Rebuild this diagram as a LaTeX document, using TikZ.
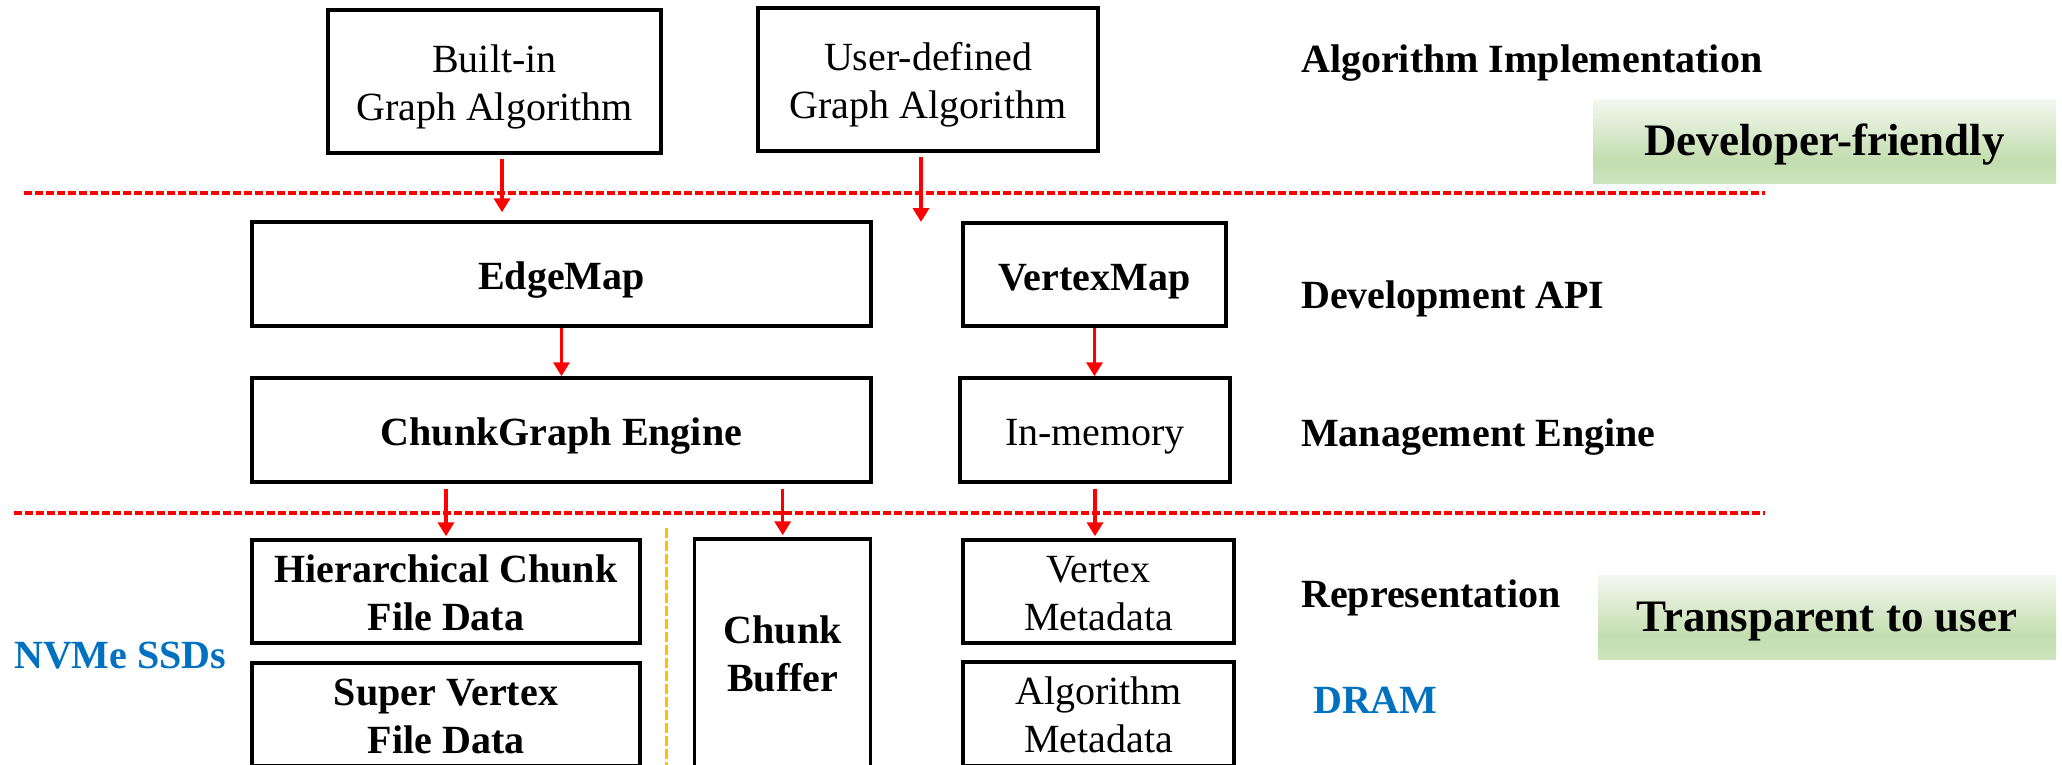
\documentclass[tikz,border=0pt]{standalone}
\usepackage{fontspec}
\setmainfont{Liberation Serif}
\usetikzlibrary{arrows.meta}

\definecolor{arrred}{HTML}{FF0000}
\definecolor{memblue}{HTML}{0070C0}
\definecolor{divgold}{HTML}{FFC000}
\definecolor{gtop}{HTML}{F4F8F0}
\definecolor{gmid}{HTML}{C2DDAE}
\definecolor{gbot}{HTML}{CDE4BE}
\pgfdeclareverticalshading{greenfade}{100bp}{color(0bp)=(gbot); color(25bp)=(gbot); color(38bp)=(gmid); color(75bp)=(gtop); color(100bp)=(gtop)}

% two centred lines; the box baseline is the second line's baseline
\newcommand\twolines[2]{\vbox{\halign{\hfil##\hfil\cr #1\cr #2\cr}}}

\begin{document}
\begin{tikzpicture}[x=1pt,y=-1pt,
  box/.style={draw=black, line width=3.5pt, inner sep=0pt,
    font=\fontsize{40}{48}\selectfont, text height=33pt, text depth=2pt},
  box2/.style={box, text height=79pt, text depth=2pt},
  boldtext/.style={font=\fontsize{40}{48}\selectfont\bfseries},
  layerlbl/.style={anchor=base west, inner sep=0pt, font=\fontsize{40}{48}\selectfont\bfseries},
  memlbl/.style={layerlbl, text=memblue},
  tag/.style={shade, shading=greenfade, inner sep=0pt, minimum height=84pt,
    font=\fontsize{45}{52}\selectfont\bfseries, text height=31pt, text depth=2pt},
  flow/.style={draw=arrred, line width=3.5pt, -{Triangle[length=14pt,width=16pt]}},
  tier/.style={draw=arrred, line width=3.5pt, dash pattern=on 7.5pt off 3.5pt},
  split/.style={draw=divgold, line width=2.8pt, dash pattern=on 10pt off 3pt}]

\useasboundingbox (0,0) rectangle (2062,764);

% algorithm layer
\node[box2, minimum width=333pt, minimum height=143pt] (builtin) at (494.5,81.5)
  {\twolines{Built-in}{Graph Algorithm}};
\node[box2, minimum width=340pt, minimum height=143pt] (userdef) at (928,79.5)
  {\twolines{User-defined}{Graph Algorithm}};

% API and engine
\node[box, boldtext, minimum width=619pt, minimum height=104pt] (edgemap) at (561.5,274) {EdgeMap};
\node[box, boldtext, minimum width=263pt, minimum height=103pt] (vertexmap) at (1094.5,274.5) {VertexMap};
\node[box, boldtext, minimum width=619pt, minimum height=104pt] (chunkgraph) at (561.5,430) {ChunkGraph Engine};
\node[box, minimum width=270pt, minimum height=104pt] (inmemory) at (1095,430) {In-memory};

% representation
\node[box2, boldtext, minimum width=388pt, minimum height=103pt] (hier) at (446,591.5)
  {\twolines{Hierarchical Chunk}{File Data}};
\node[box2, boldtext, minimum width=388pt, minimum height=103pt] (supervertex) at (446,714.5)
  {\twolines{Super Vertex}{File Data}};
\node[box2, boldtext, minimum width=176pt, minimum height=228pt] (buffer) at (782.7,653)
  {\twolines{Chunk}{Buffer}};
\node[box2, minimum width=271pt, minimum height=103pt] (vmeta) at (1098.5,591.5)
  {\twolines{Vertex}{Metadata}};
\node[box2, minimum width=271pt, minimum height=104pt] (ameta) at (1098.5,714)
  {\twolines{Algorithm}{Metadata}};

% layer names
\node[layerlbl] (lalgo) at (1301,72) {Algorithm Implementation};
\node[layerlbl] (lapi) at (1301,308) {Development API};
\node[layerlbl] (lengine) at (1301,446.7) {Management Engine};
\node[layerlbl] (lrep) at (1301,607) {Representation};
\node[memlbl] (ldram) at (1313,713) {DRAM};
\node[memlbl] (lssd) at (14,668) {NVMe SSDs};

% tags
\node[tag, minimum width=463pt] (devfriendly) at (1824.5,141) {Developer-friendly};
\node[tag, minimum width=458pt] (transparent) at (1827,617) {Transparent to user};

% tier separators
\coordinate (t1a) at (24,193);
\coordinate (t1b) at (1765,193);
\coordinate (t2a) at (14,513);
\coordinate (t2b) at (1765,513);
\draw[tier] (t1a) -- (t1b);
\draw[tier] (t2a) -- (t2b);

% SSD / memory split
\coordinate (s1) at (666.5,528);
\coordinate (s2) at (666.5,770);
\draw[split] (s1) -- (s2);

% data flow
\coordinate (udend) at (921,222);
\draw[flow, shorten <=4pt, shorten >=8pt] ([xshift=7.5pt]builtin.south) -- ([xshift=7.5pt]builtin.south |- edgemap.north);
\draw[flow, shorten <=4pt] ([xshift=-7pt]userdef.south) -- (udend);
\draw[flow] (edgemap.south) -- (chunkgraph.north);
\draw[flow] (vertexmap.south) -- (vertexmap.south |- inmemory.north);
\draw[flow, shorten <=5pt, shorten >=2pt] (hier.north |- chunkgraph.south) -- (hier.north);
\draw[flow, shorten <=5pt, shorten >=2pt] (buffer.north |- chunkgraph.south) -- (buffer.north);
\draw[flow, shorten <=5pt, shorten >=2pt] (inmemory.south) -- (inmemory.south |- vmeta.north);
\end{tikzpicture}
\end{document}
